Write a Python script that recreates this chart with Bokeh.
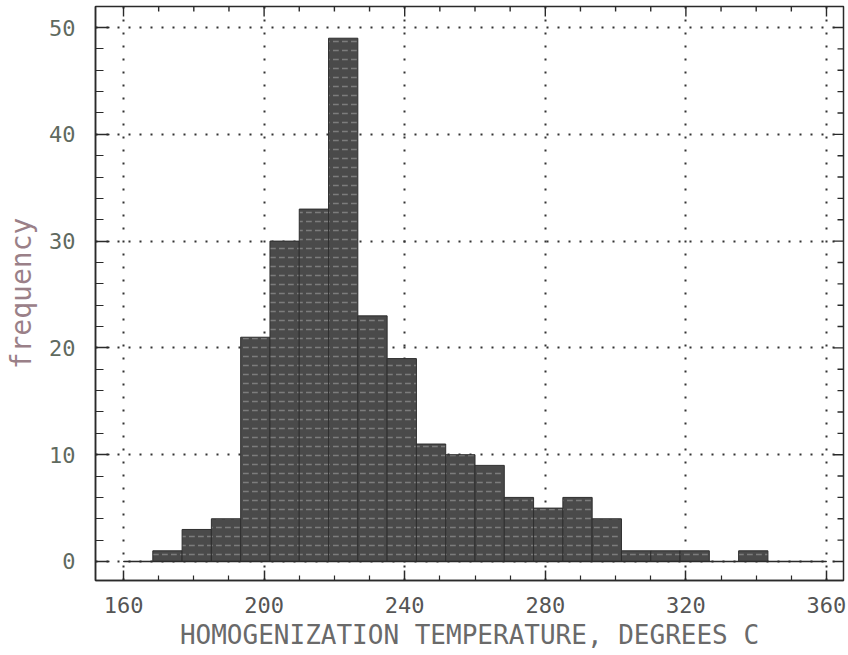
import numpy as np
from bokeh.plotting import figure
from bokeh.models import Range1d, FixedTicker, ColumnDataSource
from bokeh.embed import file_html
from bokeh.resources import INLINE

# ---- data ----
bin_start = 160
bin_end = 360
counts = [0, 1, 3, 4, 21, 30, 33, 49, 23, 19, 11, 10, 9, 6, 5, 6, 4, 1, 1, 1, 0, 1, 0, 0]
x_major = [160, 200, 240, 280, 320, 360]
x_minor = [170, 180, 190, 210, 220, 230, 250, 260, 270, 290, 300, 310, 330, 340, 350]
y_major = [0, 10, 20, 30, 40, 50]
y_minor = [2, 4, 6, 8, 12, 14, 16, 18, 22, 24, 26, 28, 32, 34, 36, 38, 42, 44, 46, 48]
x_title = "HOMOGENIZATION TEMPERATURE, DEGREES C"
y_title = "frequency"

# ---- layout ----
X0, X1 = 152.03, 364.84
Y0, Y1 = -1.78, 51.97
FRAME_W, FRAME_H = 748, 574
px_x = (X1 - X0) / FRAME_W   # data units per pixel
px_y = (Y1 - Y0) / FRAME_H

edges = np.linspace(bin_start, bin_end, len(counts) + 1)
src = ColumnDataSource(dict(left=edges[:-1], right=edges[1:], top=counts,
                            bottom=[0] * len(counts)))

FONT = "DejaVu Sans Mono"
INK = "#2a2a2a"

p = figure(width=848, height=655, output_backend="svg", toolbar_location=None,
           x_range=Range1d(X0, X1), y_range=Range1d(Y0, Y1),
           min_border_left=95, min_border_right=5, min_border_top=6,
           min_border_bottom=75)
p.background_fill_color = "white"
p.border_fill_color = "white"
p.outline_line_color = INK
p.outline_line_width = 1.5

# grid (dotted)
p.xgrid.ticker = FixedTicker(ticks=x_major)
p.ygrid.ticker = FixedTicker(ticks=y_major)
p.xgrid.grid_line_color = "#333333"
p.ygrid.grid_line_color = "#333333"
p.xgrid.grid_line_width = 2
p.ygrid.grid_line_width = 2
p.xgrid.grid_line_dash = "2 11"
p.ygrid.grid_line_dash = "2 9"

# bars
p.quad(left="left", right="right", top="top", bottom="bottom", source=src,
       fill_color="#4a4a4a", line_color="#2e2e2e", line_width=1,
       hatch_pattern="horizontal_dash", hatch_color="white", hatch_alpha=0.28,
       hatch_scale=9, hatch_weight=1.5)
# histogram baseline
p.line(x=[bin_start, bin_end], y=[0, 0], line_color=INK, line_width=1.6)

def style_axis(ax, maj_in, min_in):
    ax.axis_line_color = INK
    ax.axis_line_width = 1.5
    ax.major_tick_line_color = INK
    ax.minor_tick_line_color = INK
    ax.major_tick_line_width = 1.5
    ax.minor_tick_line_width = 1.2
    ax.major_tick_in = maj_in
    ax.major_tick_out = 0
    ax.minor_tick_in = min_in
    ax.minor_tick_out = 0

# bottom axis
xa = p.xaxis[0]
xa.ticker = FixedTicker(ticks=x_major, minor_ticks=x_minor)
style_axis(xa, 10, 5)
xa.major_label_text_font = FONT
xa.major_label_text_font_size = "22px"
xa.major_label_text_color = "#555555"
xa.major_label_standoff = 16
xa.axis_label = x_title
xa.axis_label_text_font = FONT
xa.axis_label_text_font_size = "26px"
xa.axis_label_text_font_style = "normal"
xa.axis_label_text_color = "#6a6a6a"
xa.axis_label_standoff = 4

# left axis
ya = p.yaxis[0]
ya.ticker = FixedTicker(ticks=y_major, minor_ticks=y_minor)
style_axis(ya, 14, 8)
ya.major_label_text_font = FONT
ya.major_label_text_font_size = "22px"
ya.major_label_text_color = "#5f6a5f"
ya.major_label_standoff = 20
ya.axis_label = y_title
ya.axis_label_text_font = FONT
ya.axis_label_text_font_size = "28px"
ya.axis_label_text_font_style = "normal"
ya.axis_label_text_color = "#9a8088"
ya.axis_label_standoff = 8

# ticks on the top and right borders (pointing inward)
top_x = x_major + x_minor
top_len = [10 * px_y] * len(x_major) + [5 * px_y] * len(x_minor)
p.segment(x0=top_x, y0=[Y1] * len(top_x), x1=top_x,
          y1=[Y1 - d for d in top_len], line_color=INK, line_width=1.4)
right_y = y_major + y_minor
right_len = [10 * px_x] * len(y_major) + [6 * px_x] * len(y_minor)
p.segment(x0=[X1] * len(right_y), y0=right_y, x1=[X1 - d for d in right_len],
          y1=right_y, line_color=INK, line_width=1.4)

open("out.html", "w").write(file_html(p, INLINE))
